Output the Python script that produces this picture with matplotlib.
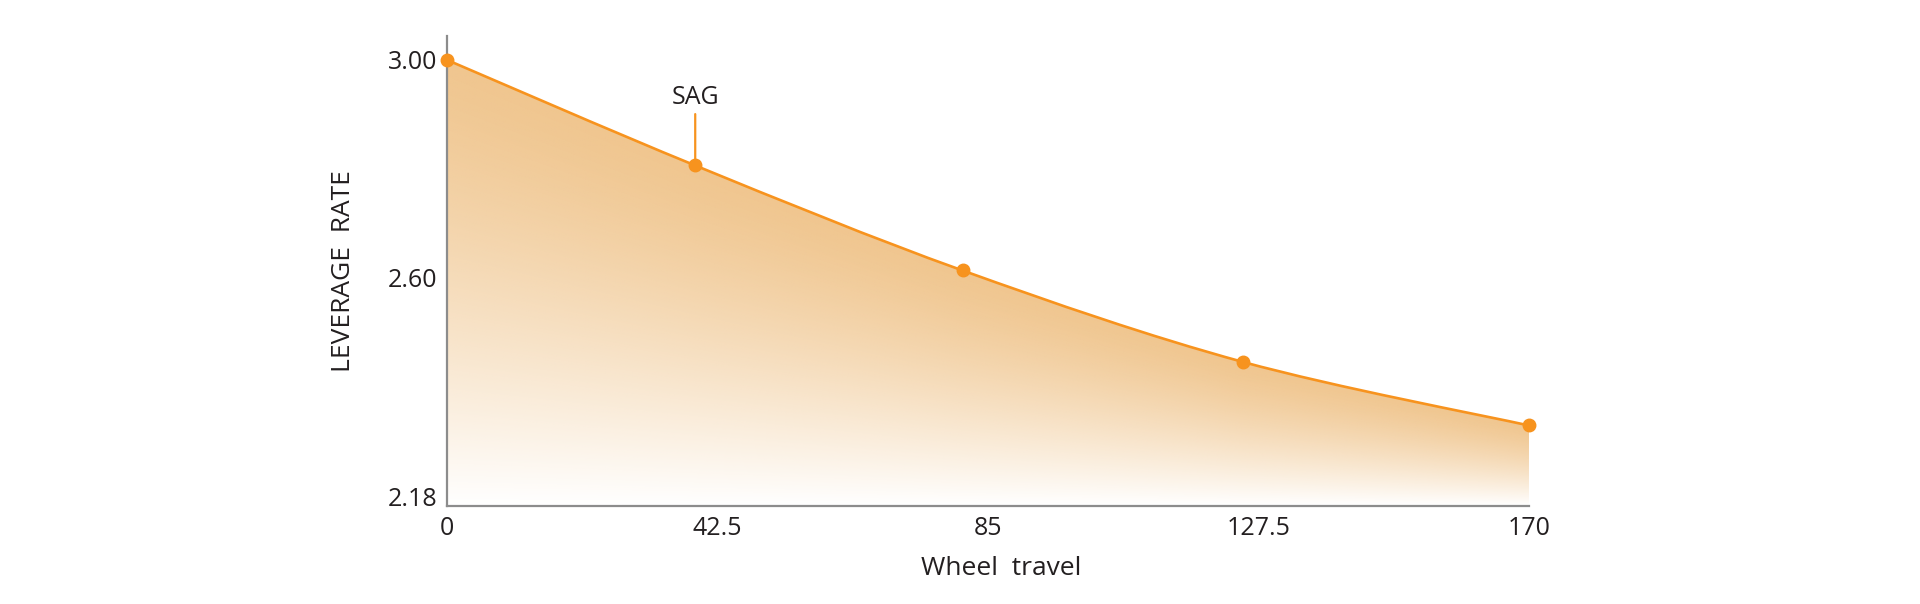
import numpy as np
import matplotlib
matplotlib.use('Agg')
import matplotlib.pyplot as plt
from matplotlib.path import Path
from matplotlib.patches import PathPatch

# ---- data ----
travel = [0, 39, 81, 125, 170]
leverage = [3.00, 2.806, 2.613, 2.445, 2.328]
x_ticks = [0, 42.5, 85, 127.5, 170]
x_tick_labels = ['0', '42.5', '85', '127.5', '170']
y_ticks = [2.18, 2.60, 3.00]
y_tick_labels = ['2.18', '2.60', '3.00']
sag_index = 1
sag_label = 'SAG'
x_title = 'Wheel  travel'
y_title = 'LEVERAGE  RATE'

plt.rcParams['font.family'] = ['Open Sans', 'DejaVu Sans']
ORANGE = '#F7931E'
FILL = np.array([240, 198, 143]) / 255.0
TEXT = '#231F20'
SPINE = '#8C8C8C'

fig = plt.figure(figsize=(19.2, 6.04), dpi=100)
ax = fig.add_axes([447 / 1920, 1 - 506 / 604, (1529 - 447) / 1920, (506 - 36) / 604])
ymin, ymax = 2.18, 3.044
ax.set_xlim(0, 170)
ax.set_ylim(ymin, ymax)

# smooth curve (Catmull-Rom -> cubic Bezier) through the data points
P = np.column_stack([travel, leverage]).astype(float)
ext = np.vstack([P[0], P, P[-1]])
verts = [tuple(P[0])]
codes = [Path.MOVETO]
for i in range(len(P) - 1):
    p0, p1, p2, p3 = ext[i], ext[i + 1], ext[i + 2], ext[i + 3]
    c1 = p1 + (p2 - p0) / 6.0
    c2 = p2 - (p3 - p1) / 6.0
    verts += [tuple(c1), tuple(c2), tuple(p2)]
    codes += [Path.CURVE4] * 3
curve = Path(verts, codes)

fill_verts = verts + [(travel[-1], ymin), (travel[0], ymin), tuple(P[0])]
fill_codes = codes + [Path.LINETO, Path.LINETO, Path.CLOSEPOLY]
fill_path = Path(fill_verts, fill_codes)

# gradient fill image, clipped to the area under the curve
H, W = 500, 700
xs = np.linspace(0, 170, W)
ys = np.linspace(ymin, ymax, H)
top = np.interp(xs, travel, leverage)
t = (top[None, :] - ys[:, None]) / (top[None, :] - ymin)
t = np.clip(t, 0, 1)
alpha = 1 - t ** 1.35
img = np.zeros((H, W, 4))
img[..., :3] = FILL
img[..., 3] = alpha
im = ax.imshow(img, extent=(0, 170, ymin, ymax), origin='lower', aspect='auto',
               interpolation='bilinear', zorder=1)
clip_patch = PathPatch(fill_path, facecolor='none', edgecolor='none')
ax.add_patch(clip_patch)
im.set_clip_path(clip_patch)

ax.add_patch(PathPatch(curve, facecolor='none', edgecolor=ORANGE, lw=1.9,
                       zorder=3, clip_on=False))
ax.plot(travel, leverage, 'o', color=ORANGE, ms=9, zorder=4, clip_on=False)

# SAG annotation
ax.annotate(sag_label, xy=(travel[sag_index], leverage[sag_index]),
            xytext=(0, 49), textcoords='offset points', ha='center', va='center',
            fontsize=18, color=TEXT,
            arrowprops=dict(arrowstyle='-', color=ORANGE, lw=1.6, shrinkA=1, shrinkB=0))

# axes styling
for s in ['top', 'right']:
    ax.spines[s].set_visible(False)
for s in ['left', 'bottom']:
    ax.spines[s].set_color(SPINE)
    ax.spines[s].set_linewidth(1.6)
    ax.spines[s].set_zorder(2)

ax.set_xticks(x_ticks)
ax.set_xticklabels(x_tick_labels)
ax.set_yticks(y_ticks)
ax.set_yticklabels(y_tick_labels)
ax.tick_params(length=0, labelsize=18, labelcolor=TEXT)
ax.tick_params(axis='x', pad=7)
ax.tick_params(axis='y', pad=7)
ax.get_yticklabels()[0].set_va('baseline')

ax.set_xlabel(x_title, fontsize=19, color=TEXT, va='center')
ax.xaxis.set_label_coords(0.512, -0.134)
ax.set_ylabel(y_title, fontsize=19, color=TEXT, va='center')
ax.yaxis.set_label_coords(-0.096, 0.5)

fig.savefig('out.png', dpi=100)
